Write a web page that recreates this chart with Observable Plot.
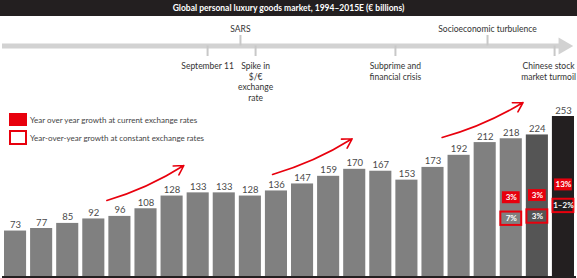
<!DOCTYPE html>
<html>
<head>
<meta charset="utf-8">
<script src="https://cdn.jsdelivr.net/npm/d3@7"></script>
<script src="https://cdn.jsdelivr.net/npm/@observablehq/plot@0.6"></script>
<style>
  html, body { margin: 0; padding: 0; background: #fff; }
  #chart { position: relative; width: 577px; height: 278px; overflow: hidden; font-family: Lato, "Open Sans", sans-serif; }
  .title { height: 16px; line-height: 16px; background: #231f20; color: #fff; text-align: center; font-size: 8.5px; font-weight: 700; }
  .legend { position: absolute; left: 9px; top: 113px; font-size: 8px; color: #444; }
  .legend .row { display: flex; align-items: center; height: 13px; margin-bottom: 5px; }
  .legend .sw { width: 18px; height: 13px; box-sizing: border-box; margin-right: 3px; }
  .legend .filled { background: #e8000d; }
  .legend .outline { border: 2px solid #e8000d; background: #fff; height: 15px; }
  svg { overflow: visible; }
</style>
</head>
<body>
<div id="chart">
  <div class="title">Global personal luxury goods market, 1994–2015E (€ billions)</div>
</div>
<script>
// Market size by year, € billions (2015 is an estimate)
const years = [1994, 1995, 1996, 1997, 1998, 1999, 2000, 2001, 2002, 2003, 2004,
               2005, 2006, 2007, 2008, 2009, 2010, 2011, 2012, 2013, 2014, 2015];
const marketValues = [73, 77, 85, 92, 96, 108, 128, 133, 133, 128, 136,
                      147, 159, 170, 167, 153, 173, 192, 212, 218, 224, 253];

// Year-over-year growth shown on the last three bars
const growthYears = [2013, 2014, 2015];
const growthCurrentRates = ["3%", "3%", "13%"];
const growthConstantRates = ["7%", "3%", "1–2%"];

// Events along the timeline
const eventNames = ["September 11", "SARS", "Spike in\n$/€\nexchange\nrate",
                    "Subprime and\nfinancial crisis", "Socioeconomic turbulence",
                    "Chinese stock\nmarket turmoil"];
const eventYears = [2001.36, 2002.62, 2003.2, 2008.56, 2012.09, 2014.66];
const eventSides = ["below", "above", "below", "below", "above", "below"];

// Growth-phase trend arrows (year, € billions)
const trendStartYears = [1997.5, 2003.85, 2010.35];
const trendStartValues = [121, 162, 220];
const trendEndYears = [2000.45, 2006.9, 2013.45];
const trendEndValues = [176, 218, 275];

const RED = "#e8000d";
const W = 577;
const xDomain = [1993.5, 2015.5];

const bars = years.map((year, i) => ({year, value: marketValues[i]}));
const barFill = d => d.year === 2015 ? "#231f20" : d.year === 2014 ? "#555555" : "#808080";
const growth = growthYears.map((year, i) => {
  const b = bars.find(d => d.year === year);
  return {year, value: b.value, fill: barFill(b), current: growthCurrentRates[i], constant: growthConstantRates[i]};
});
const events = eventNames.map((name, i) => ({name, year: eventYears[i], side: eventSides[i] === "above" ? 1 : -1}));
const trends = trendStartYears.map((x1, i) => ({x1, y1: trendStartValues[i], x2: trendEndYears[i], y2: trendEndValues[i]}));

const font = "Lato, 'Open Sans', sans-serif";

// Timeline strip
const timeline = Plot.plot({
  width: W, height: 84,
  marginLeft: 2, marginRight: 1, marginTop: 19, marginBottom: 44,
  style: {fontFamily: font, background: "transparent", overflow: "visible"},
  x: {domain: xDomain, axis: null},
  y: {domain: [-1, 1], axis: null},
  marks: [
    Plot.ruleY([0], {x1: xDomain[0], x2: 2015, stroke: "#d2d2d2", strokeWidth: 5}),
    Plot.dot([2015], {x: d => d, y: 0, symbol: "triangle", rotate: 90, r: 6.3, fill: "#d2d2d2", stroke: null}),
    Plot.ruleX(events, {x: "year", y1: 0, y2: "side", stroke: "#c8c8c8", strokeWidth: 2}),
    Plot.text(events.filter(d => d.side > 0), {x: "year", y: 1, text: "name", dy: -6, fontSize: 8.5, fill: "#333"}),
    Plot.text(events.filter(d => d.side < 0 && d.year < 2014), {x: "year", y: -1, text: "name", lineAnchor: "top", dy: 5, lineHeight: 1.25, fontSize: 8.5, fill: "#333"}),
    Plot.text(events.filter(d => d.side < 0 && d.year >= 2014), {x: "year", y: -1, text: "name", lineAnchor: "top", dy: 5, dx: -6, lineHeight: 1.25, fontSize: 8.5, fill: "#333"})
  ]
});

// Bar chart
const chart = Plot.plot({
  width: W, height: 178,
  marginLeft: 2, marginRight: 1, marginTop: 16, marginBottom: 1,
  style: {fontFamily: font, background: "transparent", overflow: "visible"},
  x: {domain: xDomain, axis: null},
  y: {domain: [0, 253], axis: null},
  marks: [
    Plot.rectY(bars, {x1: d => d.year - 0.5, x2: d => d.year + 0.5, y: "value", fill: barFill, insetLeft: 2, insetRight: 2}),
    Plot.text(bars, {x: "year", y: "value", text: d => String(d.value), dy: -6, fontSize: 9.5, fill: "#4a4a4a"}),
    Plot.ruleY([0], {stroke: "#231f20", strokeWidth: 3}),
    // growth at current exchange rates
    Plot.rect(growth, {x1: d => d.year - 0.34, x2: d => d.year + 0.34,
      y1: d => d.value * 0.575 - 9.4, y2: d => d.value * 0.575 + 9.4, fill: RED}),
    Plot.text(growth, {x: "year", y: d => d.value * 0.575, text: "current", fill: "#fff", fontWeight: 700, fontSize: 8}),
    // growth at constant exchange rates
    Plot.rect(growth, {x1: d => d.year - 0.4, x2: d => d.year + 0.4,
      y1: d => d.value * 0.575 - 33 - 10.5, y2: d => d.value * 0.575 - 33 + 10.5, fill: "fill", stroke: RED, strokeWidth: 2}),
    Plot.text(growth, {x: "year", y: d => d.value * 0.575 - 33, text: "constant", fill: "#fff", fontWeight: 700, fontSize: 8}),
    // trend arrows
    Plot.arrow(trends, {x1: "x1", y1: "y1", x2: "x2", y2: "y2", stroke: RED, strokeWidth: 1.6, bend: -8, headLength: 10})
  ]
});

const root = document.getElementById("chart");
root.appendChild(timeline);
root.appendChild(chart);

const legend = document.createElement("div");
legend.className = "legend";
legend.innerHTML =
  '<div class="row"><div class="sw filled"></div>Year over year growth at current exchange rates</div>' +
  '<div class="row"><div class="sw outline"></div>Year-over-year growth at constant exchange rates</div>';
root.appendChild(legend);
</script>
</body>
</html>
